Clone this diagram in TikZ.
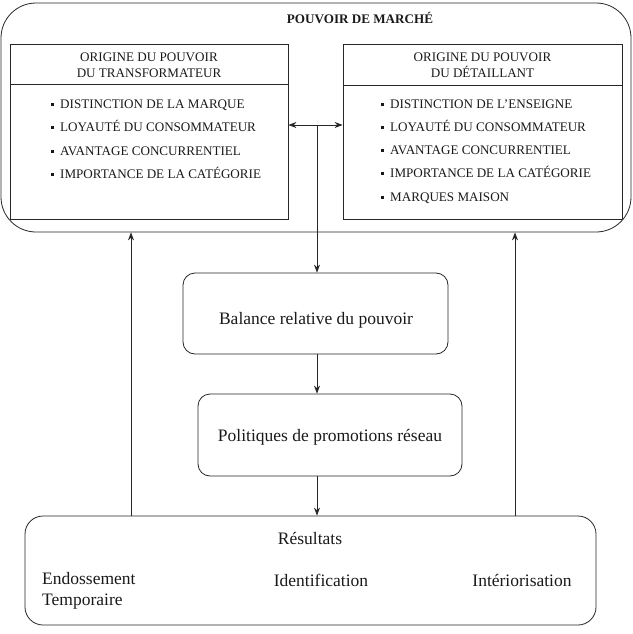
\documentclass[tikz,border=0pt]{standalone}
\usepackage{fontspec}
\setmainfont{Liberation Serif}
\usetikzlibrary{arrows.meta}
\begin{document}
\begin{tikzpicture}[x=1pt,y=-1pt,
  line/.style={draw=black!85, line width=0.8pt},
  arr/.style={line, -{Stealth[length=8pt,width=6pt]}},
  box/.style={line, rectangle, inner sep=0pt},
  small/.style={font=\fontsize{13.1}{16}\selectfont, inner sep=0pt, text=black!90},
  big/.style={font=\fontsize{17.5}{21}\selectfont, inner sep=0pt, text=black!90},
  bul/.style={small, anchor=base west},
]
\useasboundingbox (0,0) rectangle (632,634);
\newcommand{\bsq}{\rule[2.5pt]{3pt}{3pt}\hspace{6pt}}

% outer market-power frame
\node[box, rounded corners=35pt, minimum width=630pt, minimum height=229pt] (outer) at (316,117.5) {};
\node[small, font=\fontsize{13.1}{16}\selectfont\bfseries] (title) at (360,18) {POUVOIR DE MARCHÉ};

% left box
\node[box, minimum width=278pt, minimum height=175pt] (lt) at (149,131.5) {};
\coordinate (ldiv) at (0,84);
\draw[line] (lt.west |- ldiv) -- (lt.east |- ldiv);
\node[small, align=center] (lthead) at (149,65) {ORIGINE DU POUVOIR\\DU TRANSFORMATEUR};
\node[bul] (l1) at (51,108.5) {\bsq DISTINCTION DE LA MARQUE};
\node[bul] (l2) at (51,131.5) {\bsq LOYAUTÉ DU CONSOMMATEUR};
\node[bul] (l3) at (51,155.5) {\bsq AVANTAGE CONCURRENTIEL};
\node[bul] (l4) at (51,178.5) {\bsq IMPORTANCE DE LA CATÉGORIE};

% right box
\node[box, minimum width=279pt, minimum height=175pt] (rt) at (482.5,131.5) {};
\coordinate (rdiv) at (0,85);
\draw[line] (rt.west |- rdiv) -- (rt.east |- rdiv);
\node[small, align=center] (rthead) at (482.5,65) {ORIGINE DU POUVOIR\\DU DÉTAILLANT};
\node[bul] (r1) at (381,108.5) {\bsq DISTINCTION DE L’ENSEIGNE};
\node[bul] (r2) at (381,131.5) {\bsq LOYAUTÉ DU CONSOMMATEUR};
\node[bul] (r3) at (381,154.5) {\bsq AVANTAGE CONCURRENTIEL};
\node[bul] (r4) at (381,177.5) {\bsq IMPORTANCE DE LA CATÉGORIE};
\node[bul] (r5) at (381,201.5) {\bsq MARQUES MAISON};

% middle boxes
\node[box, rounded corners=12pt, minimum width=265pt, minimum height=81pt] (bal) at (315.5,313.5) {};
\node[big] (baltxt) at (316,320) {Balance relative du pouvoir};
\node[box, rounded corners=12pt, minimum width=264pt, minimum height=82pt] (pol) at (330,435) {};
\node[big] (poltxt) at (330,437) {Politiques de promotions réseau};

% results box
\node[box, rounded corners=18pt, minimum width=571pt, minimum height=109pt] (res) at (310.5,570.5) {};
\node[big] (restitle) at (310,538) {Résultats};
\node[big, align=left, anchor=west, font=\fontsize{17.5}{21}\selectfont] (endo) at (42,590.5) {Endossement\\Temporaire};
\node[big] (ident) at (321,580) {Identification};
\node[big] (inter) at (522,580) {Intériorisation};

% connectors
\coordinate (j) at (317,125);
\coordinate (xl) at (131,0);
\coordinate (xr) at (515,0);
\draw[line, {Stealth[length=8pt,width=6pt]}-{Stealth[length=8pt,width=6pt]}] (lt.east |- j) -- (rt.west |- j);
\draw[arr] (j) -- (j |- bal.north);
\draw[arr] (j |- bal.south) -- (j |- pol.north);
\draw[arr] (j |- pol.south) -- (j |- res.north);
\draw[arr] (res.north -| xl) -- (outer.south -| xl);
\draw[arr] (res.north -| xr) -- (outer.south -| xr);
\end{tikzpicture}
\end{document}
